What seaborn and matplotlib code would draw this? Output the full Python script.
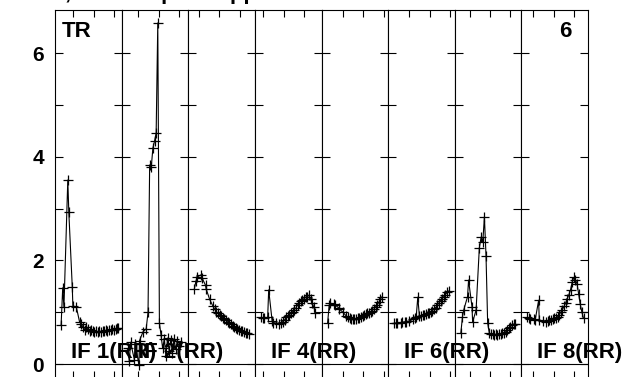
import numpy as np
import pandas as pd
import matplotlib
matplotlib.use("Agg")
import matplotlib.pyplot as plt
import seaborn as sns

# ---- data (time in minutes within each panel, values per IF) ----
t_min = [3.0, 3.8, 4.4, 6.3, 6.8, 8.5, 8.8, 10.5, 12.1, 13.0, 13.8, 14.6, 15.4,
         16.2, 17.0, 17.8, 18.6, 19.4, 20.2, 21.0, 21.8, 22.6, 23.4, 24.2, 25.0,
         25.8, 26.6, 27.4, 28.2, 29.0, 29.8, 30.6, 31.0]
nan = np.nan
if1 = [0.75, 1.47, 1.10, 3.55, 2.93, 1.49, 1.12, 1.10, 0.81, 0.77, 0.71, 0.66, 0.72,
       0.68, 0.64, 0.66, 0.63, 0.62, 0.64, 0.61, 0.63, 0.62, 0.64, 0.63, 0.65,
       0.64, 0.66, 0.65, 0.67, 0.66, 0.68, 0.69, 0.70]
if2 = [0.30, 0.05, 0.42, 0.08, 0.38, -0.02, 0.45, 0.62, 0.68, 1.00, 3.84, 3.80, 4.17,
       4.30, 4.46, 6.58, 0.79, 0.56, 0.30, 0.48, 0.15, 0.50, 0.25, 0.46, 0.22,
       0.48, 0.28, 0.44, 0.35, 0.42, nan, nan, nan]
if3 = [1.45, 1.60, 1.68, 1.72, 1.66, 1.52, 1.45, 1.25, 1.12, 1.06, 1.01, 0.98, 0.95,
       0.92, 0.89, 0.86, 0.84, 0.81, 0.79, 0.77, 0.74, 0.72, 0.70, 0.68, 0.66,
       0.64, 0.63, 0.61, 0.60, 0.59, 0.58, nan, nan]
if4 = [0.90, 0.88, 0.88, 0.90, 1.43, 0.83, 0.80, 0.79, 0.78, 0.79, 0.82, 0.85, 0.90,
       0.92, 0.95, 0.98, 1.01, 1.05, 1.08, 1.14, 1.18, 1.22, 1.24, 1.26, 1.29,
       1.30, 1.33, 1.25, 1.18, 1.10, 0.98, nan, nan]
if5 = [0.79, 1.14, 1.17, 1.16, 1.14, 1.08, 1.06, 1.00, 0.93, 0.90, 0.88, 0.87, 0.86,
       0.86, 0.87, 0.88, 0.89, 0.91, 0.92, 0.94, 0.96, 0.98, 0.99, 1.01, 1.03,
       1.06, 1.10, 1.14, 1.19, 1.25, 1.30, nan, nan]
if6 = [0.79, 0.79, 0.80, 0.80, 0.81, 0.81, 0.82, 0.83, 0.86, 0.88, 0.90, 1.29, 0.92,
       0.93, 0.94, 0.95, 0.96, 0.98, 0.99, 1.01, 1.03, 1.06, 1.09, 1.13, 1.18,
       1.22, 1.26, 1.30, 1.34, 1.38, 1.41, nan, nan]
if7 = [0.60, 0.91, 1.04, 1.30, 1.62, 1.10, 0.81, 1.04, 2.24, 2.45, 2.35, 2.84, 2.08,
       0.79, 0.60, 0.58, 0.57, 0.56, 0.57, 0.56, 0.58, 0.57, 0.59, 0.60, 0.62,
       0.65, 0.69, 0.72, 0.75, 0.77, 0.78, nan, nan]
if8 = [0.90, 0.88, 0.87, 0.86, 0.85, 1.23, 0.85, 0.83, 0.82, 0.83, 0.84, 0.85, 0.86,
       0.88, 0.89, 0.91, 0.95, 1.00, 1.05, 1.11, 1.18, 1.26, 1.34, 1.43, 1.58,
       1.67, 1.62, 1.55, 1.35, 1.15, 1.00, 0.88, nan]
series = [if1, if2, if3, if4, if5, if6, if7, if8]
panel_labels = ["IF 1(RR)", "IF 2(RR)", "", "IF 4(RR)", "", "IF 6(RR)", "", "IF 8(RR)"]
tick_phase = [9.1, 8.2, 5.3, 4.2, 0.6, 0.5, 7.4, 5.9]   # first time tick in each panel (min)
y_ticks = [0, 1, 2, 3, 4, 5, 6]
y_ticklabels = ["0", "", "2", "", "4", "", "6"]
corner_left = "TR"
corner_right = "6"
title = "TY table, no collapses applied"

# ---- style ----
sns.set_theme(style="white")
plt.rcParams['font.family'] = ['Liberation Sans', 'DejaVu Sans']
plt.rcParams['font.weight'] = 'bold'
plt.rcParams['text.color'] = 'black'
plt.rcParams['ytick.labelcolor'] = 'black'
plt.rcParams['xtick.labelcolor'] = 'black'

W, H = 629, 377
fig = plt.figure(figsize=(W / 100, H / 100), dpi=100)
left, right, top, bottom = 55, 588, 10, 378
pw = (right - left) / 8
PANEL_SPAN = 32.8
YMIN, YMAX = -0.27, 6.83

for i in range(8):
    ax = fig.add_axes([(left + i * pw) / W, (H - bottom) / H, pw / W, (bottom - top) / H])
    df = pd.DataFrame({"t": t_min, "v": series[i]}).dropna()
    sns.lineplot(data=df, x="t", y="v", ax=ax, color="black", linewidth=0.8,
                 marker="+", markersize=6.5, markeredgewidth=0.9, markeredgecolor="black",
                 estimator=None, sort=False)
    ax.axhline(0, color="black", lw=0.8, zorder=1)
    ax.set_xlim(0, PANEL_SPAN)
    ax.set_ylim(YMIN, YMAX)
    xt = [tick_phase[i] + 10 * k for k in range(4)]
    xt = [x for x in xt if 1.0 < x < PANEL_SPAN - 1.0]
    ax.set_xticks(xt)
    ax.set_xticklabels([])
    ax.set_yticks(y_ticks)
    if i == 0:
        ax.set_yticklabels(y_ticklabels, fontsize=15, fontweight="bold", color="black")
    else:
        ax.set_yticklabels([])
    ax.tick_params(axis="y", direction="in", length=6, width=0.8, color="black",
                   left=True, right=True, pad=8, labelcolor="black")
    ax.tick_params(axis="x", direction="in", length=5, width=0.8, color="black",
                   top=True, bottom=True)
    ax.set_xlabel("")
    ax.set_ylabel("")
    ax.grid(False)
    for s in ax.spines.values():
        s.set_visible(True)
        s.set_color("black")
        s.set_linewidth(0.8)
    if panel_labels[i]:
        fig.text((left + i * pw + 16) / W, (H - 358) / H, panel_labels[i],
                 fontsize=16, fontweight="bold", ha="left", va="baseline", color="black")

fig.text(62 / W, (H - 37) / H, corner_left, fontsize=16, fontweight="bold",
         ha="left", va="baseline", color="black")
fig.text(572 / W, (H - 37) / H, corner_right, fontsize=16, fontweight="bold",
         ha="right", va="baseline", color="black")
fig.text(295 / W, (H + 1.5) / H, title, fontsize=16, fontweight="bold",
         ha="right", va="baseline", color="black")

fig.savefig("out.png", dpi=100)
